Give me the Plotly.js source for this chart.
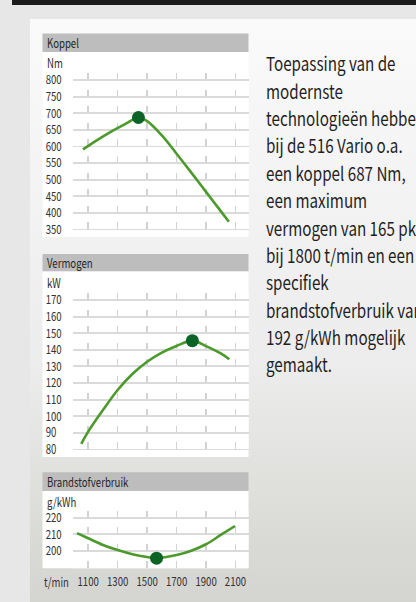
<!DOCTYPE html>
<html><head><meta charset="utf-8">
<script src="https://cdn.plot.ly/plotly-3.0.1.min.js"></script>
<style>
html,body{margin:0;padding:0;width:416px;height:602px;overflow:hidden;background:#e7e7e7;}
#topbar{position:absolute;left:12px;top:0;width:404px;height:5px;background:#1b1b1b;}
#panel{position:absolute;left:30px;top:19px;width:386px;height:583px;background:linear-gradient(#fafafa 0%,#ececec 60%,#d9d9d5 90%,#d4d4d0 100%);}
#chart{position:absolute;left:0;top:0;width:416px;height:602px;}
</style></head><body>
<div id="topbar"></div><div id="panel"></div><div id="chart"></div>
<script>
// ---- data ----
const rpmTicks = [1100, 1300, 1500, 1700, 1900, 2100];
const rpmAxisLabel = "t/min";

const koppelTitle = "Koppel";
const koppelUnit = "Nm";
const koppelTicks = [350, 400, 450, 500, 550, 600, 650, 700, 750, 800];
const koppelRpm = [1065, 1150, 1250, 1350, 1441, 1500, 1600, 1700, 1800, 1900, 2000, 2055];
const koppelNm  = [591, 616, 643, 667, 687, 676, 633, 578, 521, 463, 405, 373];
const koppelPeakRpm = [1441];
const koppelPeakNm = [687];

const vermogenTitle = "Vermogen";
const vermogenUnit = "kW";
const vermogenTicks = [80, 90, 100, 110, 120, 130, 140, 150, 160, 170];
const vermogenRpm = [1053, 1100, 1200, 1300, 1400, 1500, 1600, 1700, 1807, 1900, 2000, 2058];
const vermogenKw  = [83.4, 90.7, 103.7, 115.8, 125.4, 132.8, 138.3, 142.3, 145.5, 142.2, 137.8, 134.3];
const vermogenPeakRpm = [1807];
const vermogenPeakKw = [145.5];

const brandTitle = "Brandstofverbruik";
const brandUnit = "g/kWh";
const brandTicks = [200, 210, 220];
const brandRpm = [1024, 1100, 1200, 1300, 1400, 1500, 1564, 1700, 1800, 1900, 2000, 2097];
const brandG   = [210.7, 207.6, 203.6, 200.5, 198.0, 196.3, 195.6, 197.5, 200.1, 204.0, 209.6, 215.0];
const brandMinRpm = [1564];
const brandMinG = [195.6];

const descLines = ["Toepassing van de", "modernste", "technologieën hebben", "bij de 516 Vario o.a.",
  "een koppel 687 Nm,", "een maximum", "vermogen van 165 pk", "bij 1800 t/min en een",
  "specifiek", "brandstofverbruik van", "192 g/kWh mogelijk", "gemaakt."];

// ---- layout helpers ----
const W = 416, H = 602;
const FONT = "'Noto Sans CJK SC', 'Noto Sans', sans-serif";
const NARROW = 0.77, NARROW_DESC = 0.8;   // horizontal squeeze to imitate the condensed face
const FS = 12.5;
const px = v => v / W, py = v => 1 - v / H;
const GRID = 16.6, TICKH = 7;
const GREEN = '#4b9a2b', DOT = '#0b6425';
function yRange(topVal, step, topGridPx, topPx, botPx) {
  const per = GRID / step;
  return [topVal - (botPx - topGridPx) / per, topVal + (topGridPx - topPx) / per];
}
function padLabels(vals) {
  const maxLen = Math.max(...vals.map(v => String(v).length));
  return vals.map(v => String(v) + '\u2007'.repeat(maxLen - String(v).length));
}
const plotL = 72.7, plotR = 248.5, boxL = 42.5;
const xPer = (235.5 - 88.2) / 1000;
const xRange = [1100 - (88.2 - plotL) / xPer, 2100 + (plotR - 235.5) / xPer];

const panels = [
  {title: koppelTitle, unit: koppelUnit, ticks: koppelTicks, step: 50, topGridPx: 80, hdr: [33.5, 52], box: [52, 237], bot: 230.5, unitY: 62.8},
  {title: vermogenTitle, unit: vermogenUnit, ticks: vermogenTicks, step: 10, topGridPx: 300, hdr: [254, 271.5], box: [271.5, 457], bot: 450.5, unitY: 282.8},
  {title: brandTitle, unit: brandUnit, ticks: brandTicks, step: 10, topGridPx: 517.7, hdr: [472.3, 491], box: [491, 568.3], bot: 568.2, unitY: 501.3}
];

const lineStyle = {color: GREEN, width: 2.6, shape: 'spline', smoothing: 1};
const traces = [
  {x: koppelRpm, y: koppelNm, xaxis: 'x', yaxis: 'y', mode: 'lines', line: lineStyle, cliponaxis: false},
  {x: koppelPeakRpm, y: koppelPeakNm, xaxis: 'x', yaxis: 'y', mode: 'markers', marker: {color: DOT, size: 13}, cliponaxis: false},
  {x: vermogenRpm, y: vermogenKw, xaxis: 'x2', yaxis: 'y2', mode: 'lines', line: lineStyle, cliponaxis: false},
  {x: vermogenPeakRpm, y: vermogenPeakKw, xaxis: 'x2', yaxis: 'y2', mode: 'markers', marker: {color: DOT, size: 13}, cliponaxis: false},
  {x: brandRpm, y: brandG, xaxis: 'x3', yaxis: 'y3', mode: 'lines', line: lineStyle, cliponaxis: false},
  {x: brandMinRpm, y: brandMinG, xaxis: 'x3', yaxis: 'y3', mode: 'markers', marker: {color: DOT, size: 13}, cliponaxis: false}
];

const layout = {
  width: W, height: H,
  margin: {l: 0, r: 0, t: 0, b: 0},
  paper_bgcolor: 'rgba(0,0,0,0)', plot_bgcolor: '#ffffff',
  showlegend: false,
  font: {family: FONT, size: FS, color: '#2b2b2b'},
  shapes: [], annotations: []
};

panels.forEach((p, i) => {
  const n = i === 0 ? '' : String(i + 1);
  const topPx = p.topGridPx - TICKH;
  layout['xaxis' + n] = {
    domain: [px(plotL), px(plotR)], range: xRange, anchor: 'y' + n,
    tickvals: rpmTicks, ticktext: rpmTicks.map(String), tickangle: 0,
    showticklabels: i === 2, ticks: '', ticklabelstandoff: 4,
    tickfont: {family: FONT, size: FS, color: '#333333'},
    showgrid: true, gridcolor: '#d2d2d2', gridwidth: 1.5,
    griddash: TICKH + 'px,' + (GRID - TICKH).toFixed(2) + 'px',
    zeroline: false, showline: false, fixedrange: true
  };
  layout['yaxis' + n] = {
    domain: [py(p.bot), py(topPx)],
    range: yRange(p.ticks[p.ticks.length - 1], p.step, p.topGridPx, topPx, p.bot),
    anchor: 'x' + n,
    tickvals: p.ticks, ticktext: padLabels(p.ticks),
    ticks: '', ticklabelstandoff: 10,
    tickfont: {family: FONT, size: FS, color: '#333333'},
    showgrid: true, gridcolor: '#dadada', gridwidth: 1.8,
    zeroline: false, showline: false, fixedrange: true
  };
  layout.shapes.push({type: 'rect', xref: 'paper', yref: 'paper', layer: 'below',
    x0: px(boxL), x1: px(plotR), y0: py(p.hdr[1]), y1: py(p.hdr[0]), fillcolor: '#bdbdbd', line: {width: 0}});
  layout.shapes.push({type: 'rect', xref: 'paper', yref: 'paper', layer: 'below',
    x0: px(boxL), x1: px(plotR), y0: py(p.box[1]), y1: py(p.box[0]), fillcolor: '#ffffff', line: {width: 0}});
  layout.annotations.push({xref: 'paper', yref: 'paper', x: px(45), y: py((p.hdr[0] + p.hdr[1]) / 2),
    xanchor: 'left', yanchor: 'middle', align: 'left', text: p.title, showarrow: false,
    font: {family: FONT, size: FS, color: '#262626'}});
  layout.annotations.push({xref: 'paper', yref: 'paper', x: px(45), y: py(p.unitY),
    xanchor: 'left', yanchor: 'middle', align: 'left', text: p.unit, showarrow: false,
    font: {family: FONT, size: FS, color: '#2b2b2b'}});
});

layout.annotations.push({xref: 'paper', yref: 'paper', x: px(42), y: py(581),
  xanchor: 'left', yanchor: 'middle', align: 'left', text: rpmAxisLabel, showarrow: false,
  font: {family: FONT, size: FS, color: '#333333'}});

const DESC_FS = 19, DESC_STEP = 27.35, DESC_BASE = 69.2;
descLines.forEach((t, i) => {
  layout.annotations.push({xref: 'paper', yref: 'paper', x: px(263.5),
    y: py(DESC_BASE + i * DESC_STEP - 0.33 * DESC_FS),
    xanchor: 'left', yanchor: 'middle', align: 'left', text: t, showarrow: false,
    font: {family: FONT, size: DESC_FS, color: '#1f1f1f'}});
});

Plotly.newPlot('chart', traces, layout, {staticPlot: true, displayModeBar: false}).then(gd => {
  // squeeze every text horizontally around its own anchor point
  gd.querySelectorAll('svg text').forEach(t => {
    const fs = parseFloat(t.style.fontSize) || FS;
    const s = fs > 16 ? NARROW_DESC : NARROW;
    const ax = parseFloat(t.getAttribute('x')) || 0;
    const tr = t.getAttribute('transform') || '';
    t.setAttribute('transform', (tr + ' translate(' + ax + ',0) scale(' + s + ',1) translate(' + (-ax) + ',0)').trim());
  });
});
</script>
</body></html>
